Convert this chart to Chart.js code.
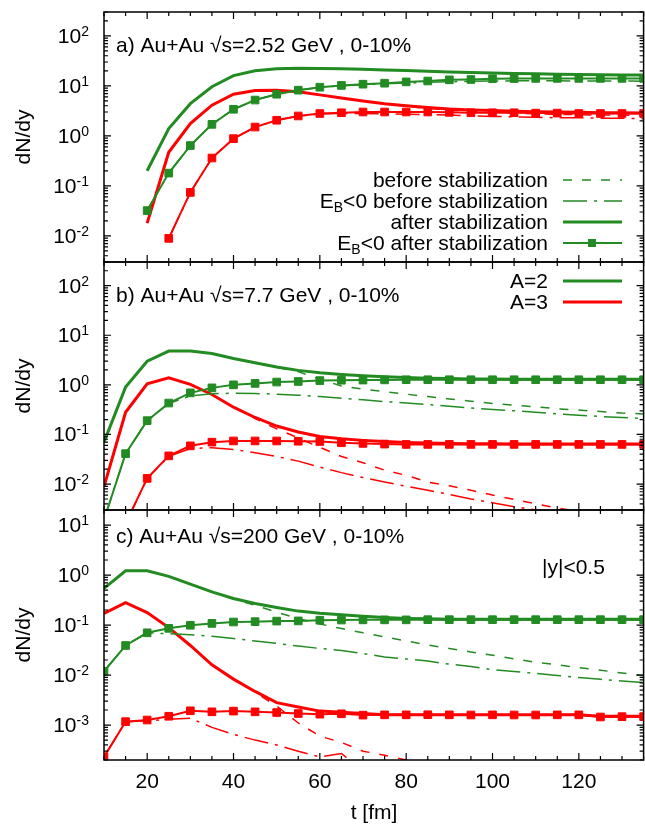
<!DOCTYPE html>
<html lang="en">
<head>
  <meta charset="UTF-8" />
  <title>dN/dy vs t</title>
  <script src="https://cdn.jsdelivr.net/npm/chart.js"></script>
  <style>
    html, body { margin: 0; padding: 0; background: #fff; overflow: hidden; }
    .stage { position: relative; width: 650px; height: 825px; }
    .panel { position: absolute; left: 0; width: 650px; }
    #wrapA { top: 0; height: 275px; }
    #wrapB { top: 250px; height: 272px; }
    #wrapC { top: 498px; height: 327px; }
  </style>
</head>
<body>
  <div class="stage">
    <div class="panel" id="wrapA"><canvas id="chartA"></canvas></div>
    <div class="panel" id="wrapB"><canvas id="chartB"></canvas></div>
    <div class="panel" id="wrapC"><canvas id="chartC"></canvas></div>
  </div>

  <script>
    // time steps (fm)
    const times = [10, 15, 20, 25, 30, 35, 40, 45, 50, 55, 60, 65, 70, 75, 80, 85, 90, 95, 100, 105, 110, 115, 120, 125, 130, 135];
    const xTickLabels = [20, 40, 60, 80, 100, 120];

    // a) 2.52 GeV
    const aBeforeA2   = [null, null, 0.2, 1.4, 4.4, 9.6, 16, 20, 22, 22.4, 22.3, 22, 21.4, 20.8, 20.2, 19.6, 19, 18.5, 18.0, 17.6, 17.3, 17.0, 16.8, 16.6, 16.4, 16.2];
    const aEbBeforeA2 = [null, null, 0.032, 0.18, 0.64, 1.7, 3.4, 5.2, 6.8, 8.2, 9.3, 10.0, 10.5, 11.0, 11.4, 11.8, 12.1, 12.3, 12.5, 12.6, 12.6, 12.6, 12.5, 12.5, 12.5, 12.4];
    const aAfterA2    = [null, null, 0.2, 1.4, 4.4, 9.6, 16, 20, 22, 22.4, 22.3, 22, 21.4, 20.8, 20.2, 19.6, 19, 18.5, 18.1, 17.7, 17.4, 17.1, 16.9, 16.7, 16.5, 16.4];
    const aEbAfterA2  = [null, null, 0.032, 0.18, 0.64, 1.7, 3.4, 5.2, 6.8, 8.2, 9.4, 10.2, 10.8, 11.3, 12, 12.5, 13.2, 13.4, 13.9, 14, 14.1, 14.1, 14.1, 14.1, 14.1, 14.1];
    const aBeforeA3   = [null, null, 0.018, 0.47, 1.76, 4.1, 6.8, 8.1, 8.2, 7.6, 6.6, 5.7, 5.0, 4.4, 3.9, 3.55, 3.3, 3.1, 2.95, 2.85, 2.75, 2.7, 2.65, 2.6, 2.6, 2.55];
    const aEbBeforeA3 = [null, null, null, 0.0089, 0.074, 0.36, 0.88, 1.5, 2.05, 2.5, 2.75, 2.8, 2.8, 2.75, 2.7, 2.65, 2.6, 2.5, 2.45, 2.4, 2.35, 2.3, 2.3, 2.25, 2.25, 2.2];
    const aAfterA3    = [null, null, 0.018, 0.47, 1.76, 4.1, 6.8, 8.1, 8.2, 7.6, 6.6, 5.7, 5.0, 4.4, 4.0, 3.7, 3.45, 3.3, 3.2, 3.1, 3.05, 3.0, 2.95, 2.9, 2.9, 2.85];
    const aEbAfterA3  = [null, null, null, 0.0089, 0.074, 0.36, 0.88, 1.5, 2.05, 2.5, 2.8, 2.9, 3.0, 3.0, 3.0, 3.0, 2.95, 2.9, 2.9, 2.9, 2.85, 2.85, 2.8, 2.8, 2.8, 2.8];

    // b) 7.7 GeV
    const bBeforeA2   = [0.07, 0.9, 3.0, 4.8, 4.8, 4.3, 3.4, 2.8, 2.25, 1.85, 1.3, 0.95, 0.82, 0.73, 0.65, 0.58, 0.52, 0.47, 0.42, 0.39, 0.36, 0.33, 0.31, 0.29, 0.27, 0.26];
    const bEbBeforeA2 = [0.0019, 0.041, 0.19, 0.42, 0.6, 0.66, 0.68, 0.67, 0.65, 0.62, 0.58, 0.54, 0.5, 0.46, 0.43, 0.4, 0.37, 0.34, 0.32, 0.3, 0.28, 0.26, 0.245, 0.23, 0.22, 0.21];
    const bAfterA2    = [0.07, 0.9, 3.0, 4.8, 4.8, 4.3, 3.4, 2.8, 2.3, 1.96, 1.76, 1.62, 1.52, 1.45, 1.4, 1.36, 1.34, 1.32, 1.31, 1.3, 1.3, 1.3, 1.3, 1.3, 1.3, 1.3];
    const bEbAfterA2  = [0.0019, 0.041, 0.19, 0.43, 0.69, 0.87, 1.0, 1.07, 1.14, 1.17, 1.22, 1.24, 1.25, 1.26, 1.27, 1.27, 1.27, 1.27, 1.27, 1.27, 1.27, 1.27, 1.27, 1.27, 1.27, 1.27];
    const bBeforeA3   = [0.0089, 0.28, 1.05, 1.39, 1.02, 0.64, 0.355, 0.21, 0.13, 0.085, 0.055, 0.036, 0.027, 0.019, 0.015, 0.011, 0.0092, 0.0075, 0.006, 0.0049, 0.004, 0.0033, 0.0028, 0.0024, 0.002, 0.0017];
    const bEbBeforeA3 = [null, 0.0016, 0.013, 0.036, 0.052, 0.054, 0.05, 0.043, 0.036, 0.029, 0.022, 0.017, 0.0135, 0.011, 0.009, 0.0075, 0.0062, 0.005, 0.0042, 0.0035, 0.003, 0.0026, 0.0022, 0.0019, 0.0016, 0.0014];
    const bAfterA3    = [0.0089, 0.28, 1.05, 1.39, 1.02, 0.64, 0.355, 0.22, 0.148, 0.112, 0.091, 0.082, 0.076, 0.072, 0.069, 0.067, 0.066, 0.065, 0.065, 0.064, 0.064, 0.064, 0.064, 0.064, 0.064, 0.064];
    const bEbAfterA3  = [null, 0.0016, 0.013, 0.037, 0.059, 0.07, 0.074, 0.074, 0.074, 0.073, 0.072, 0.068, 0.066, 0.064, 0.063, 0.063, 0.063, 0.063, 0.063, 0.063, 0.063, 0.063, 0.063, 0.063, 0.063, 0.063];

    // c) 200 GeV
    const cBeforeA2   = [0.54, 1.22, 1.22, 0.94, 0.66, 0.46, 0.33, 0.25, 0.18, 0.135, 0.105, 0.085, 0.07, 0.058, 0.048, 0.04, 0.034, 0.029, 0.025, 0.021, 0.018, 0.016, 0.014, 0.0125, 0.011, 0.0098];
    const cEbBeforeA2 = [0.0119, 0.039, 0.07, 0.067, 0.064, 0.06, 0.054, 0.048, 0.043, 0.038, 0.034, 0.031, 0.027, 0.023, 0.021, 0.019, 0.0165, 0.0148, 0.0128, 0.0118, 0.0108, 0.0098, 0.0089, 0.0082, 0.0076, 0.0071];
    const cAfterA2    = [0.54, 1.22, 1.22, 0.94, 0.66, 0.46, 0.34, 0.27, 0.224, 0.19, 0.172, 0.16, 0.15, 0.142, 0.136, 0.133, 0.131, 0.13, 0.13, 0.13, 0.13, 0.13, 0.13, 0.13, 0.13, 0.13];
    const cEbAfterA2  = [0.0119, 0.039, 0.07, 0.086, 0.099, 0.108, 0.115, 0.117, 0.12, 0.121, 0.125, 0.126, 0.127, 0.127, 0.127, 0.128, 0.128, 0.128, 0.128, 0.128, 0.128, 0.128, 0.128, 0.128, 0.128, 0.128];
    const cBeforeA3   = [0.17, 0.28, 0.178, 0.089, 0.039, 0.016, 0.0083, 0.0045, 0.0024, 0.0011, 0.0006, 0.00045, 0.0003, 0.00025, 0.0002, 0.00015, 0.0001, null, null, null, null, null, null, null, null, null];
    const cEbBeforeA3 = [0.00023, 0.00117, 0.00122, 0.0013, 0.00137, 0.0009, 0.00065, 0.0005, 0.0004, 0.0003, 0.00023, 0.00027, 0.00012, null, null, null, null, null, null, null, null, null, null, null, null, null];
    const cAfterA3    = [0.17, 0.28, 0.178, 0.089, 0.039, 0.016, 0.0083, 0.0047, 0.0028, 0.0023, 0.0019, 0.0018, 0.0017, 0.0016, 0.0016, 0.0016, 0.0016, 0.0016, 0.0016, 0.0016, 0.0016, 0.0016, 0.0016, 0.0015, 0.0015, 0.0015];
    const cEbAfterA3  = [0.00023, 0.00117, 0.00126, 0.0015, 0.00193, 0.00184, 0.0019, 0.00184, 0.00178, 0.0017, 0.00165, 0.00168, 0.00158, 0.0016, 0.0016, 0.00161, 0.0016, 0.00159, 0.0016, 0.00159, 0.00159, 0.0016, 0.0016, 0.00145, 0.00147, 0.00147];

    const GREEN = '#228b22';
    const RED = '#ff0000';
    const FONT = '"Liberation Sans", Arial, sans-serif';
    const FS = 21;   // main text size
    const SUP = 14;  // super/subscript size

    const DASH = [9, 10];
    const DASHDOT = [24, 7, 3, 7];

    function series(values, color, kind) {
      const ds = {
        data: times.map((t, i) => ({ x: t, y: values[i] })),
        borderColor: color,
        backgroundColor: color,
        pointRadius: 0,
        fill: false,
        tension: 0,
        spanGaps: false,
        clip: 0
      };
      if (kind === 'dash') { ds.borderWidth = 1.5; ds.borderDash = DASH; }
      if (kind === 'dashdot') { ds.borderWidth = 1.5; ds.borderDash = DASHDOT; }
      if (kind === 'solid') { ds.borderWidth = 3; }
      if (kind === 'square') {
        ds.borderWidth = 2;
        ds.pointStyle = 'rect';
        ds.pointRadius = 5.4;
        ds.pointBorderWidth = 1;
      }
      return ds;
    }

    // draw text made of pieces, some of them sub/superscripted
    function richWidth(ctx, parts) {
      let w = 0;
      parts.forEach(p => {
        ctx.font = (p.sub || p.sup ? SUP : FS) + 'px ' + FONT;
        w += ctx.measureText(p.t).width;
      });
      return w;
    }
    function drawRich(ctx, parts, x, y, align) {
      let cx = align === 'right' ? x - richWidth(ctx, parts) : x;
      ctx.textAlign = 'left';
      ctx.textBaseline = 'alphabetic';
      parts.forEach(p => {
        ctx.font = (p.sub || p.sup ? SUP : FS) + 'px ' + FONT;
        let dy = 0;
        if (p.sub) dy = 4;
        if (p.sup) dy = -7;
        ctx.fillText(p.t, cx, y + dy);
        cx += ctx.measureText(p.t).width;
      });
    }

    const decoById = {
      chartA: {
        title: 'a) Au+Au √s=2.52 GeV , 0-10%', titleY: 46,
        yExp: [-2, -1, 0, 1, 2],
        legend: [
          { parts: [{ t: 'before stabilization' }], color: GREEN, kind: 'dash', y: 180 },
          { parts: [{ t: 'E' }, { t: 'B', sub: true }, { t: '<0 before stabilization' }], color: GREEN, kind: 'dashdot', y: 201 },
          { parts: [{ t: 'after stabilization' }], color: GREEN, kind: 'solid', y: 222 },
          { parts: [{ t: 'E' }, { t: 'B', sub: true }, { t: '<0 after stabilization' }], color: GREEN, kind: 'square', y: 243 }
        ]
      },
      chartB: {
        title: 'b) Au+Au √s=7.7 GeV , 0-10%', titleY: 296,
        yExp: [-2, -1, 0, 1, 2],
        legend: [
          { parts: [{ t: 'A=2' }], color: GREEN, kind: 'solid', y: 281 },
          { parts: [{ t: 'A=3' }], color: RED, kind: 'solid', y: 302 }
        ]
      },
      chartC: {
        title: 'c) Au+Au √s=200 GeV , 0-10%', titleY: 537,
        yExp: [-3, -2, -1, 0, 1],
        note: '|y|<0.5',
        xAxis: true,
        legend: []
      }
    };

    const panelFrame = {
      id: 'panelFrame',
      afterDraw(chart) {
        const deco = decoById[chart.canvas.id];
        const ctx = chart.ctx;
        const area = chart.chartArea;
        const xs = chart.scales.x;
        const ys = chart.scales.y;
        // canvas offset relative to the page, for page-level text positions
        const offY = chart.canvas.parentNode.offsetTop;
        ctx.save();

        // ticks on all four sides
        ctx.strokeStyle = '#000';
        ctx.lineWidth = 1.2;
        ctx.beginPath();
        for (let t = xs.min; t <= xs.max; t += 5) {
          const px = xs.getPixelForValue(t);
          const len = t % 20 === 0 ? 7 : 4;
          ctx.moveTo(px, area.bottom); ctx.lineTo(px, area.bottom - len);
          ctx.moveTo(px, area.top); ctx.lineTo(px, area.top + len);
        }
        const e0 = Math.floor(Math.log10(ys.min));
        const e1 = Math.ceil(Math.log10(ys.max));
        for (let e = e0; e <= e1; e++) {
          for (let m = 1; m <= 9; m++) {
            const v = m * Math.pow(10, e);
            if (v < ys.min * 0.999 || v > ys.max * 1.001) continue;
            const py = ys.getPixelForValue(v);
            const len = m === 1 ? 7 : 4;
            ctx.moveTo(area.left, py); ctx.lineTo(area.left + len, py);
            ctx.moveTo(area.right, py); ctx.lineTo(area.right - len, py);
          }
        }
        ctx.stroke();
        ctx.lineWidth = 1.5;
        ctx.strokeRect(area.left, area.top, area.right - area.left, area.bottom - area.top);

        ctx.fillStyle = '#000';
        // y tick labels 10^n
        deco.yExp.forEach(e => {
          const py = ys.getPixelForValue(Math.pow(10, e));
          drawRich(ctx, [{ t: '10' }, { t: String(e), sup: true }], 89, py + 7, 'right');
        });

        // y axis title
        ctx.save();
        ctx.translate(24, (area.top + area.bottom) / 2);
        ctx.rotate(-Math.PI / 2);
        ctx.font = FS + 'px ' + FONT;
        ctx.textAlign = 'center';
        ctx.textBaseline = 'middle';
        ctx.fillText('dN/dy', 0, 0);
        ctx.restore();

        // panel label
        ctx.font = FS + 'px ' + FONT;
        ctx.textAlign = 'left';
        ctx.textBaseline = 'middle';
        ctx.fillText(deco.title, 116, deco.titleY - offY);

        if (deco.note) {
          ctx.fillText(deco.note, 542, 568 - offY);
        }

        // key
        deco.legend.forEach(row => {
          const y = row.y - offY;
          ctx.fillStyle = '#000';
          drawRich(ctx, row.parts, 548, y + 7, 'right');
          ctx.strokeStyle = row.color;
          ctx.fillStyle = row.color;
          ctx.setLineDash([]);
          ctx.lineWidth = 1.5;
          if (row.kind === 'dash') ctx.setLineDash(DASH);
          if (row.kind === 'dashdot') ctx.setLineDash(DASHDOT);
          if (row.kind === 'solid') ctx.lineWidth = 3;
          if (row.kind === 'square') ctx.lineWidth = 2;
          ctx.beginPath();
          ctx.moveTo(563, y);
          ctx.lineTo(622, y);
          ctx.stroke();
          ctx.setLineDash([]);
          if (row.kind === 'square') ctx.fillRect(592 - 4, y - 4, 8, 8);
        });

        // x axis labels only on the bottom panel
        if (deco.xAxis) {
          ctx.fillStyle = '#000';
          ctx.font = FS + 'px ' + FONT;
          ctx.textAlign = 'center';
          ctx.textBaseline = 'middle';
          xTickLabels.forEach(v => {
            ctx.fillText(String(v), xs.getPixelForValue(v), area.bottom + 22);
          });
          ctx.fillText('t [fm]', (area.left + 644) / 2, area.bottom + 53);
        }
        ctx.restore();
      }
    };

    function buildPanel(canvasId, datasets, pad, yMin, yMax) {
      return new Chart(document.getElementById(canvasId), {
        type: 'line',
        data: { datasets: datasets },
        options: {
          responsive: true,
          maintainAspectRatio: false,
          animation: false,
          layout: { padding: pad },
          plugins: { legend: { display: false }, tooltip: { enabled: false } },
          scales: {
            x: { type: 'linear', min: 10, max: 135, display: false },
            y: { type: 'logarithmic', min: yMin, max: yMax, display: false }
          }
        },
        plugins: [panelFrame]
      });
    }

    // first dataset is painted last (on top)
    buildPanel('chartA', [
      series(aEbAfterA2, GREEN, 'square'),
      series(aAfterA2, GREEN, 'solid'),
      series(aEbBeforeA2, GREEN, 'dashdot'),
      series(aBeforeA2, GREEN, 'dash'),
      series(aEbAfterA3, RED, 'square'),
      series(aAfterA3, RED, 'solid'),
      series(aEbBeforeA3, RED, 'dashdot'),
      series(aBeforeA3, RED, 'dash')
    ], { left: 104, right: 3, top: 12, bottom: 13 }, 0.003, 300);

    buildPanel('chartB', [
      series(bEbAfterA2, GREEN, 'square'),
      series(bAfterA2, GREEN, 'solid'),
      series(bEbBeforeA2, GREEN, 'dashdot'),
      series(bBeforeA2, GREEN, 'dash'),
      series(bEbAfterA3, RED, 'square'),
      series(bAfterA3, RED, 'solid'),
      series(bEbBeforeA3, RED, 'dashdot'),
      series(bBeforeA3, RED, 'dash')
    ], { left: 104, right: 3, top: 12, bottom: 12 }, 0.003, 300);

    buildPanel('chartC', [
      series(cEbAfterA2, GREEN, 'square'),
      series(cAfterA2, GREEN, 'solid'),
      series(cEbBeforeA2, GREEN, 'dashdot'),
      series(cBeforeA2, GREEN, 'dash'),
      series(cEbAfterA3, RED, 'square'),
      series(cAfterA3, RED, 'solid'),
      series(cEbBeforeA3, RED, 'dashdot'),
      series(cBeforeA3, RED, 'dash')
    ], { left: 104, right: 3, top: 12, bottom: 65 }, 0.0002, 20);
  </script>
</body>
</html>
